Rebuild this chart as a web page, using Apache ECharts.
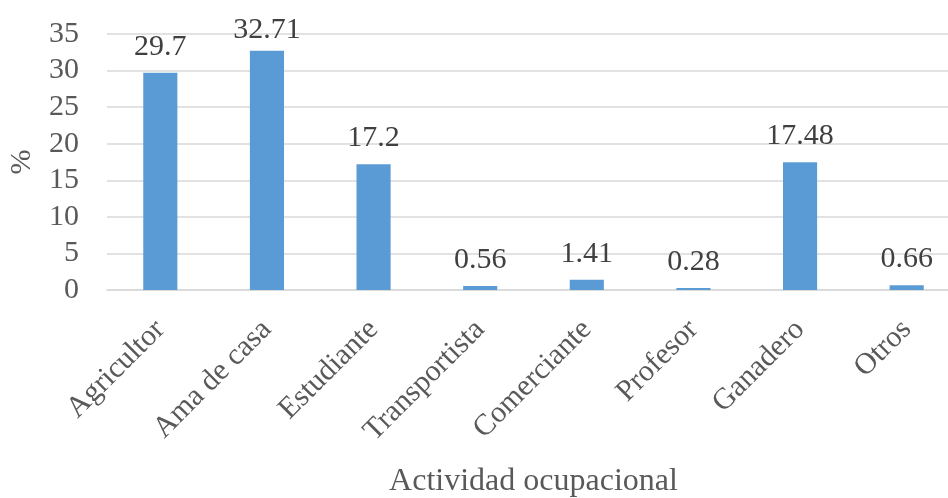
<!DOCTYPE html>
<html>
<head>
<meta charset="utf-8">
<script src="https://cdn.jsdelivr.net/npm/echarts@6/dist/echarts.min.js"></script>
<style>html,body{margin:0;padding:0;background:#fff;}#c{width:948px;height:498px;}</style>
</head>
<body>
<div id="c"></div>
<script>
const categories = ["Agricultor","Ama de casa","Estudiante","Transportista","Comerciante","Profesor","Ganadero","Otros"];
const values = [29.7, 32.71, 17.2, 0.56, 1.41, 0.28, 17.48, 0.66];
const yTicks = {min: 0, max: 35, interval: 5};
const xTitle = "Actividad ocupacional";
const yTitle = "%";

const font = "'Liberation Serif', 'Times New Roman', serif";
const yMax = yTicks.max;
// labels near the top of the plot are pulled in slightly (as in the original)
const seriesData = values.map(v => v > yMax - 3 ? {value: v, label: {distance: 6}} : v);

const chart = echarts.init(document.getElementById('c'), null, {renderer: 'canvas'});
chart.setOption({
  animation: false,
  grid: {left: 107, right: -12, top: 34, bottom: 208, containLabel: false, outerBoundsMode: 'none'},
  xAxis: {
    type: 'category',
    data: categories,
    axisLine: {show: true, lineStyle: {color: '#d9d9d9', width: 1.5}},
    axisTick: {show: false},
    axisLabel: {rotate: 45, color: '#595959', fontFamily: font, fontSize: 30, margin: 35, interval: 0},
    name: xTitle,
    nameLocation: 'middle',
    nameGap: 176,
    nameTextStyle: {color: '#595959', fontFamily: font, fontSize: 32}
  },
  yAxis: {
    type: 'value',
    min: yTicks.min, max: yTicks.max, interval: yTicks.interval,
    axisLine: {show: false},
    axisTick: {show: false},
    splitLine: {lineStyle: {color: '#d9d9d9', width: 1.5}},
    axisLabel: {color: '#595959', fontFamily: font, fontSize: 30, margin: 28},
    name: yTitle,
    nameLocation: 'middle',
    nameGap: 70,
    nameRotate: 90,
    nameTextStyle: {color: '#595959', fontFamily: font, fontSize: 30}
  },
  series: [{
    type: 'bar',
    data: seriesData,
    barWidth: '32%',
    itemStyle: {color: '#5B9BD5'},
    label: {show: true, position: 'top', distance: 11, color: '#404040', fontFamily: font, fontSize: 30}
  }]
});
</script>
</body>
</html>
